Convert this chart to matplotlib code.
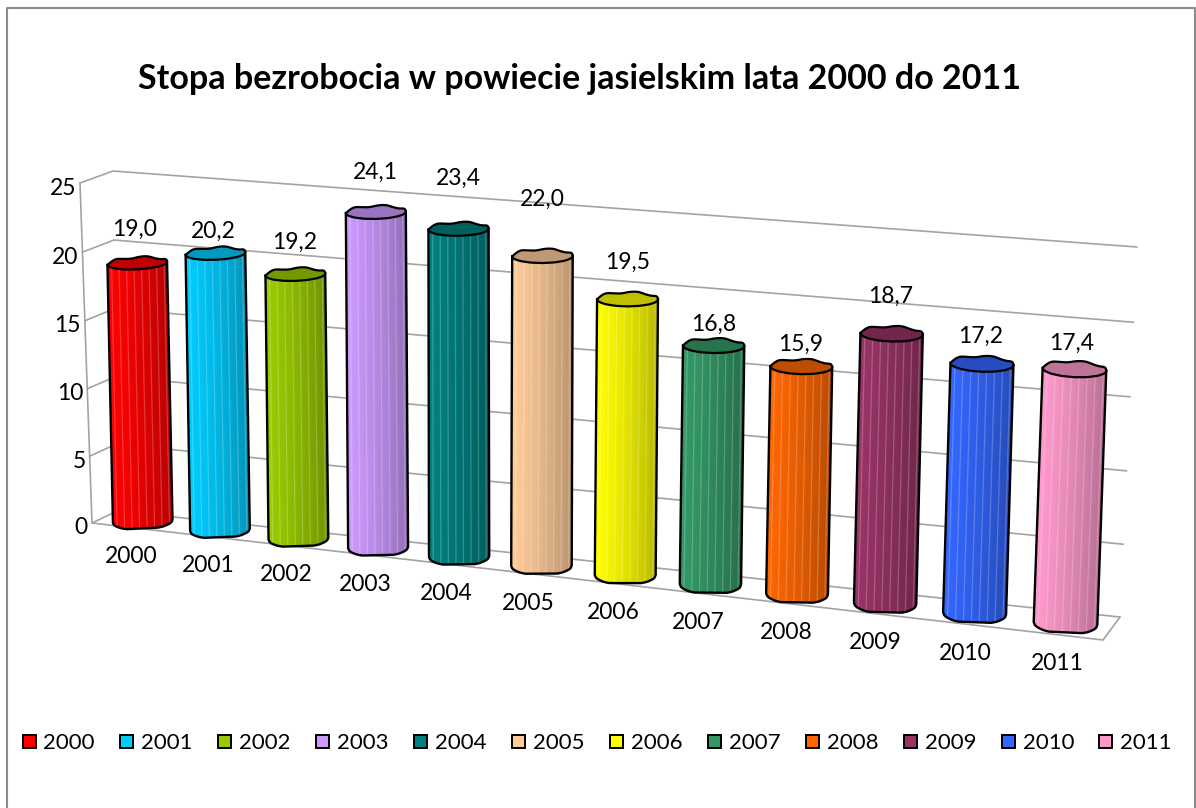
import numpy as np
import matplotlib
matplotlib.use('Agg')
import matplotlib.pyplot as plt
from matplotlib.collections import PolyCollection
from matplotlib.patches import Rectangle

years = ['2000', '2001', '2002', '2003', '2004', '2005', '2006', '2007', '2008', '2009', '2010', '2011']
values = [19.0, 20.2, 19.2, 24.1, 23.4, 22.0, 19.5, 16.8, 15.9, 18.7, 17.2, 17.4]
colors = ['#FF0000', '#00CCFF', '#99CC00', '#CC99FF', '#008080', '#FFCC99',
          '#FFFF00', '#339966', '#FF6600', '#993366', '#3366FF', '#FF99CC']
y_ticks = [0, 5, 10, 15, 20, 25]
title = 'Stopa bezrobocia w powiecie jasielskim lata 2000 do 2011'

# how far each data label sits above its cylinder top (px)
label_lift = [34, 22, 32, 40, 51, 57, 37, 21, 22, 38, 28, 26]

plt.rcParams['font.family'] = ['Lato', 'DejaVu Sans']


def homography(src, dst):
    rows = []
    for (a, b), (x, y) in zip(src, dst):
        rows.append([a, b, 1, 0, 0, 0, -a * x, -b * x, -x])
        rows.append([0, 0, 0, a, b, 1, -a * y, -b * y, -y])
    return np.linalg.svd(np.array(rows, float))[2][-1].reshape(3, 3)


n_cat = len(years)
plane = [(0, 0), (0, 25), (n_cat, 25), (n_cat, 0)]
back_wall = homography(plane, [(117, 511), (113, 171), (1137, 247), (1120, 617)])
front_wall = homography(plane, [(92, 523), (80, 183), (1114, 272), (1103, 640)])


def project(s, v, d):
    # s = category position, v = value, d = depth (0 back wall, 1 front edge)
    q = np.array([s, v, 1.0])
    b = back_wall @ q
    f = front_wall @ q
    return (1 - d) * b[:2] / b[2] + d * f[:2] / f[2]


def shade(col, k):
    return tuple(np.array(matplotlib.colors.to_rgb(col)) * k)


def tint(col, k):
    c = np.array(matplotlib.colors.to_rgb(col))
    return tuple(c + (1 - c) * k)


fig = plt.figure(figsize=(11.96, 8.08), dpi=100)
ax = fig.add_axes([0, 0, 1, 1])
ax.set_xlim(0, 1196)
ax.set_ylim(808, 0)
ax.axis('off')

# chart border
ax.plot([6.5, 6.5, 1195, 1195], [808, 7.5, 7.5, 808], color='#8c8c8c', lw=1.5)

ax.text(580, 79, title, fontsize=24.5, fontweight='bold', ha='center', va='center', color='black')

# walls and floor
grid = dict(color='#a3a3a3', lw=1.2, solid_capstyle='round', zorder=1)
for v in y_ticks:
    a, b, c = project(0, v, 1), project(0, v, 0), project(n_cat, v, 0)
    ax.plot([a[0], b[0], c[0]], [a[1], b[1], c[1]], **grid)
    ax.text(a[0] - 4, a[1] + 5, str(v), fontsize=16.5, ha='right', va='center')
a, b = project(0, 25, 1), project(0, 0, 1)
ax.plot([a[0], b[0]], [a[1], b[1]], **grid)
a, b, c = project(0, 0, 1), project(n_cat, 0, 1), project(n_cat, 0, 0)
ax.plot([a[0], b[0], c[0]], [a[1], b[1], c[1]], **grid)

facet_t = np.linspace(0, 2 * np.pi, 17)
stripes = np.linspace(-0.86, 0.9, 8)

for i, (val, col) in enumerate(zip(values, colors)):
    s = i + 0.5
    frac = s / n_cat
    bow = np.array([-3 * np.sin(np.pi * frac), 0])
    top = project(s, val, 0.5) + bow
    base = project(s, 0, 0.5) + bow
    rx = 29.8 + 2.2 * frac ** 2
    tilt = -0.055 + 0.105 * frac
    ry_top = 6 + 2 * frac
    ry_base = 7 + 2 * frac

    def rim(center, ry, x, flat=1.0):
        # x runs -1..1 across the front half of the rim
        t = np.arccos(np.clip(x, -1, 1))
        sag = np.minimum(1, flat * np.interp(t, facet_t, np.sin(facet_t)))
        return np.column_stack([center[0] + rx * x, center[1] + rx * tilt * x + ry * sag])

    xs = np.linspace(-1, 1, 61)
    low = rim(base, ry_base, xs, flat=1.2)
    high = rim(top, ry_top, xs)
    polys, faces = [], []
    for j in range(len(xs) - 1):
        polys.append([low[j], low[j + 1], high[j + 1], high[j]])
        faces.append(shade(col, 1.0 - 0.27 * ((j + 0.5) / (len(xs) - 1)) ** 1.3))
    ax.add_collection(PolyCollection(polys, facecolors=faces, edgecolors=faces, linewidths=0.6, zorder=3))

    for x0 in stripes:
        a = rim(base, ry_base, np.array([x0]), flat=1.2)[0]
        b = rim(top, ry_top, np.array([x0]))[0]
        k = 1.0 - 0.27 * ((x0 + 1) / 2) ** 1.3
        ax.plot([a[0], b[0]], [a[1], b[1]], color=tint(shade(col, k), 0.22), lw=0.9, zorder=4)

    # cap, the back of the rim is slightly wavy in the original
    cap_t = np.linspace(0, 2 * np.pi, 97)
    cap_x = np.cos(cap_t)
    wave = np.where(np.sin(cap_t) < 0, 0.9 * np.sin(6 * cap_t), 0)
    cap_sag = np.interp(cap_t, facet_t, np.sin(facet_t))
    cap = np.column_stack([top[0] + rx * cap_x,
                           top[1] + rx * tilt * cap_x + ry_top * cap_sag + wave])
    ax.fill(cap[:, 0], cap[:, 1], facecolor=shade(col, 0.75), edgecolor='black', lw=1.6, zorder=5)

    # outline of the body
    outline = np.vstack([high[0], low, high[-1]])
    ax.plot(outline[:, 0], outline[:, 1], color='black', lw=1.7, zorder=5, solid_joinstyle='round')

    ax.text(top[0] - 3 - bow[0], top[1] - label_lift[i], f'{val:.1f}'.replace('.', ','), fontsize=16.5,
            ha='center', va='center', zorder=6)

    foot = project(s, 0, 1)
    ax.text(foot[0] + 1 - 6.5 * np.sin(np.pi * frac), foot[1] + 29, years[i], fontsize=16.5,
            ha='center', va='center', zorder=6)

# legend
for i, (yr, col) in enumerate(zip(years, colors)):
    x0 = 22.5 + 97.9 * i
    ax.add_patch(Rectangle((x0 + 1, 735.5), 13, 13, facecolor='#b5b5b5', edgecolor='none', zorder=2))
    ax.add_patch(Rectangle((x0, 734.5), 13, 13, facecolor=col, edgecolor='black', lw=1.4, zorder=3))
    ax.text(x0 + 21, 743, yr, fontsize=16, ha='left', va='center')

fig.savefig('out.png', dpi=100)
